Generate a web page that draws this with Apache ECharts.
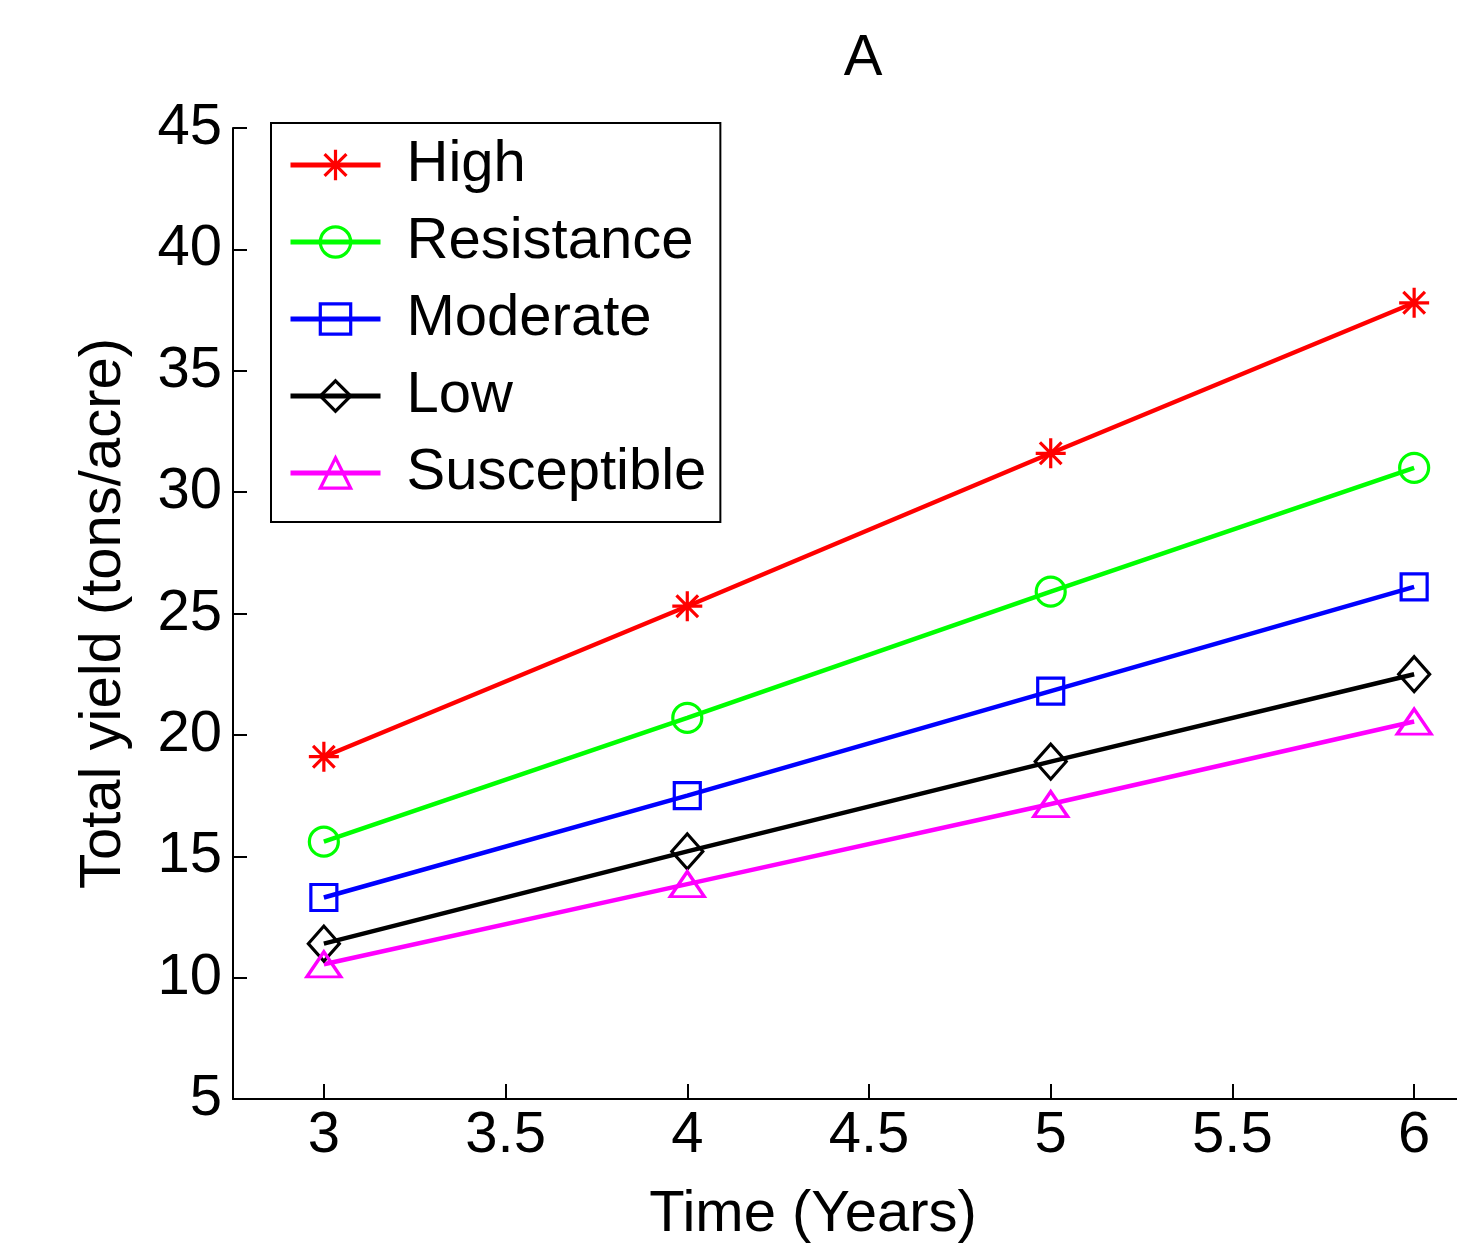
<!DOCTYPE html>
<html><head><meta charset="utf-8">
<script src="https://cdn.jsdelivr.net/npm/echarts@6/dist/echarts.min.js"></script>
<style>html,body{margin:0;padding:0;background:#fff}#c{width:1457px;height:1248px}</style>
</head><body><div id="c"></div>
<script>
const years = [3, 4, 5, 6];
const high = [19.1, 25.3, 31.6, 37.8];
const resistance = [15.6, 20.7, 25.9, 31.0];
const moderate = [13.3, 17.5, 21.8, 26.1];
const low = [11.4, 15.2, 18.9, 22.5];
const susceptible = [10.55, 13.85, 17.15, 20.55];
const xTicks = [3, 3.5, 4, 4.5, 5, 5.5, 6];
const names = ['High', 'Resistance', 'Moderate', 'Low', 'Susceptible'];

const FONT = 'Liberation Sans, Arial, Helvetica, sans-serif';
const ASTERISK = 'path://M0,-1L0,1M-1,0L1,0M-0.72,-0.72L0.72,0.72M-0.72,0.72L0.72,-0.72';
const styles = [
  {color: '#ff0000', symbol: ASTERISK, size: 30},
  {color: '#00ff00', symbol: 'circle', size: 29},
  {color: '#0000ff', symbol: 'rect', size: 26},
  {color: '#000000', symbol: 'diamond', size: [31, 35]},
  {color: '#ff00ff', symbol: 'triangle', size: [34, 25]}
];
const values = [high, resistance, moderate, low, susceptible];

const series = names.map((n, k) => ({
  name: n,
  type: 'line',
  data: years.map((x, i) => [x, values[k][i]]),
  symbol: styles[k].symbol,
  symbolSize: styles[k].size,
  showAllSymbol: true,
  lineStyle: {color: styles[k].color, width: 4.5},
  itemStyle: {color: 'rgba(0,0,0,0)', borderColor: styles[k].color, borderWidth: 3.2},
  emphasis: {disabled: true},
  clip: false
}));

const chart = echarts.init(document.getElementById('c'), null, {renderer: 'canvas'});
chart.setOption({
  animation: false,
  backgroundColor: '#fff',
  title: {
    text: 'A', left: 863, top: 30, textAlign: 'center', padding: 0,
    textStyle: {fontFamily: FONT, fontSize: 58, fontWeight: 'normal', color: '#000', lineHeight: 58}
  },
  grid: {left: 233, top: 128, right: -48, bottom: 149, containLabel: false, outerBoundsMode: 'none'},
  legend: {
    orient: 'vertical', left: 271, top: 123,
    itemWidth: 90, itemHeight: 38, itemGap: 19,
    padding: [13, 14, 20, 17],
    borderColor: '#000', borderWidth: 2, backgroundColor: '#fff',
    selectedMode: false,
    itemStyle: {borderWidth: 3.2},
    lineStyle: {width: 5},
    textStyle: {fontFamily: FONT, fontSize: 58, color: '#000', lineHeight: 58, padding: [0, 0, 0, 21]},
    data: names
  },
  xAxis: {
    type: 'value', min: 2.75, max: 6.25,
    name: 'Time (Years)', nameLocation: 'middle', nameGap: 87,
    nameTextStyle: {fontFamily: FONT, fontSize: 58, color: '#000', lineHeight: 58, padding: [0, 112, 0, 0]},
    axisLine: {show: true, onZero: false, lineStyle: {color: '#000', width: 2}},
    axisTick: {show: true, inside: true, length: 15, lineStyle: {color: '#000', width: 2}, customValues: xTicks},
    axisLabel: {fontFamily: FONT, fontSize: 58, color: '#000', lineHeight: 58, margin: 8, customValues: xTicks, showMinLabel: true, showMaxLabel: true},
    splitLine: {show: false}
  },
  yAxis: {
    type: 'value', min: 5, max: 45, interval: 5,
    name: 'Total yield (tons/acre)', nameLocation: 'middle', nameGap: 100,
    nameTextStyle: {fontFamily: FONT, fontSize: 58, color: '#000', lineHeight: 58},
    axisLine: {show: true, onZero: false, lineStyle: {color: '#000', width: 2}},
    axisTick: {show: true, inside: true, length: 14, lineStyle: {color: '#000', width: 2}},
    axisLabel: {fontFamily: FONT, fontSize: 58, color: '#000', lineHeight: 58, margin: 11},
    splitLine: {show: false}
  },
  series: series
});
</script></body></html>
